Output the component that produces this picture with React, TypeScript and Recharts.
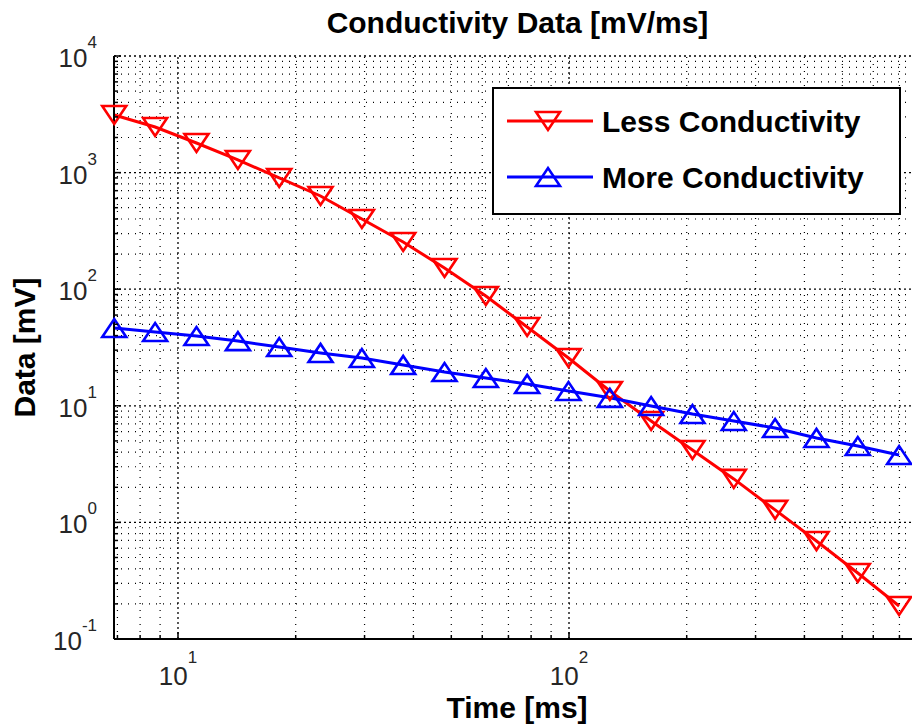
import React from 'react';
import { LineChart, Line, XAxis, YAxis, ReferenceLine, Legend } from 'recharts';

const timeMs = [6.87, 8.74, 11.15, 14.23, 18.15, 23.15, 29.53, 37.66, 48.04, 61.28, 78.16, 99.7, 127.2, 162.2, 206.9, 263.9, 336.6, 429.4, 547.7, 698.6];
const lessConductivity = [3119, 2461, 1795, 1284, 899, 630, 400, 254, 152, 87.5, 47.4, 25.7, 13.4, 7.41, 4.18, 2.36, 1.28, 0.692, 0.368, 0.192];
const moreConductivity = [46.5, 42.9, 39.7, 35.9, 31.9, 28.4, 25.7, 22.4, 19.5, 17.3, 15.4, 13.4, 11.7, 9.96, 8.51, 7.41, 6.45, 5.3, 4.52, 3.78];

const xMajorTicks = [10, 100];
const xMinorTicks = [7, 8, 9, 20, 30, 40, 50, 60, 70, 80, 90, 200, 300, 400, 500, 600, 700, 800];
const yMajorTicks = [0.1, 1, 10, 100, 1000, 10000];
const yMinorTicks = [
  0.2, 0.3, 0.4, 0.5, 0.6, 0.7, 0.8, 0.9,
  2, 3, 4, 5, 6, 7, 8, 9,
  20, 30, 40, 50, 60, 70, 80, 90,
  200, 300, 400, 500, 600, 700, 800, 900,
  2000, 3000, 4000, 5000, 6000, 7000, 8000, 9000,
];

const seriesNames = { less: 'Less Conductivity', more: 'More Conductivity' };
const titleText = 'Conductivity Data [mV/ms]';
const xLabelText = 'Time [ms]';
const yLabelText = 'Data [mV]';

const data = timeMs.map((t, i) => ({ t, less: lessConductivity[i], more: moreConductivity[i] }));
const xTicks = [...xMinorTicks, ...xMajorTicks].sort((a, b) => a - b);
const yTicks = [...yMinorTicks, ...yMajorTicks].sort((a, b) => a - b);

const FONT = '"Liberation Sans", Arial, Helvetica, sans-serif';
const RED = '#ff0000';
const BLUE = '#0000ff';

const isMajor = (v: number) => {
  const l = Math.log10(v);
  return Math.abs(l - Math.round(l)) < 1e-6;
};

const downTri = (cx: number, cy: number) => `M${cx - 12},${cy - 9} L${cx + 12},${cy - 9} L${cx},${cy + 9} Z`;
const upTri = (cx: number, cy: number) => `M${cx - 12},${cy + 9} L${cx + 12},${cy + 9} L${cx},${cy - 9} Z`;

const renderDown = (p: any) => (
  <path key={`d${p.index}`} d={downTri(p.cx, p.cy)} fill="none" stroke={RED} strokeWidth={2.6} strokeLinejoin="miter" />
);
const renderUp = (p: any) => (
  <path key={`u${p.index}`} d={upTri(p.cx, p.cy)} fill="none" stroke={BLUE} strokeWidth={2.6} strokeLinejoin="miter" />
);

const YTick = (props: any) => {
  const { x, y, payload } = props;
  const v = payload.value;
  const major = isMajor(v);
  const e = Math.round(Math.log10(v));
  return (
    <g>
      <line x1={x} x2={x + (major ? 7 : 4)} y1={y} y2={y} stroke="#000" strokeWidth={1.5} />
      {major && (
        <text x={x - 17} y={y + 11} textAnchor="end" fill="#262626" fontFamily={FONT}>
          <tspan fontSize={26}>10</tspan>
          <tspan fontSize={17} dy={-19}>{e}</tspan>
        </text>
      )}
    </g>
  );
};

const XTickBottom = (props: any) => {
  const { x, y, payload } = props;
  const v = payload.value;
  const major = isMajor(v);
  const e = Math.round(Math.log10(v));
  return (
    <g>
      <line x1={x} x2={x} y1={y} y2={y - (major ? 7 : 4)} stroke="#000" strokeWidth={1.5} />
      {major && (
        <text x={x} y={y + 46} textAnchor="middle" fill="#262626" fontFamily={FONT}>
          <tspan fontSize={26}>10</tspan>
          <tspan fontSize={17} dy={-22}>{e}</tspan>
        </text>
      )}
    </g>
  );
};

const XTickTop = (props: any) => {
  const { x, y, payload } = props;
  const major = isMajor(payload.value);
  return <line x1={x} x2={x} y1={y} y2={y + (major ? 7 : 4)} stroke="#000" strokeWidth={1.5} />;
};

const XLabel = (props: any) => {
  const vb = props.viewBox || { x: 114, y: 639, width: 816, height: 89 };
  return (
    <text x={517} y={vb.y + 79} textAnchor="middle" fontFamily={FONT} fontWeight="bold" fontSize={30} fill="#000">
      {xLabelText}
    </text>
  );
};

const YLabel = (props: any) => {
  const vb = props.viewBox || { x: 0, y: 56, width: 114, height: 583 };
  const cx = vb.x + 35;
  const cy = vb.y + vb.height / 2;
  return (
    <text x={cx} y={cy} transform={`rotate(-90 ${cx} ${cy})`} textAnchor="middle" fontFamily={FONT} fontWeight="bold" fontSize={30} fill="#000">
      {yLabelText}
    </text>
  );
};

const LegendBox = (props: any) => {
  const payload = props.payload || [];
  return (
    <svg width={409} height={128} style={{ display: 'block' }}>
      <rect x={1} y={1} width={407} height={126} fill="#fff" stroke="#000" strokeWidth={2} />
      {payload.map((p: any, i: number) => {
        const cy = 34 + i * 56;
        const down = p.dataKey === 'less';
        return (
          <g key={String(p.value)}>
            <line x1={15} x2={101} y1={cy} y2={cy} stroke={p.color} strokeWidth={3} />
            <path d={down ? downTri(56, cy) : upTri(56, cy)} fill="none" stroke={p.color} strokeWidth={2.6} />
            <text x={110} y={cy + 11} fontFamily={FONT} fontWeight="bold" fontSize={30} fill="#000">
              {p.value}
            </text>
          </g>
        );
      })}
    </svg>
  );
};

export default function App() {
  return (
    <div style={{ position: 'absolute', left: 0, top: 0, width: 912, height: 728, overflow: 'hidden', background: '#fff' }}>
      <div
        style={{
          position: 'absolute',
          left: 0,
          top: 8,
          width: 1035,
          textAlign: 'center',
          fontFamily: FONT,
          fontWeight: 'bold',
          fontSize: 30,
          lineHeight: '30px',
          color: '#000',
          zIndex: 2,
        }}
      >
        {titleText}
      </div>
      <LineChart width={930} height={728} data={data} margin={{ top: 56, right: 0, bottom: 0, left: 0 }}>
        <XAxis
          xAxisId="b"
          dataKey="t"
          type="number"
          scale="log"
          domain={[6.86, 838]}
          ticks={xTicks}
          interval={0}
          height={89}
          tickSize={0}
          tickMargin={0}
          tickLine={false}
          tick={(p: any) => <XTickBottom {...p} />}
          axisLine={{ stroke: '#000', strokeWidth: 2 }}
          label={<XLabel />}
        />
        <XAxis
          xAxisId="t"
          orientation="top"
          dataKey="t"
          type="number"
          scale="log"
          domain={[6.86, 838]}
          ticks={xTicks}
          interval={0}
          height={0}
          tickSize={0}
          tickMargin={0}
          tickLine={false}
          tick={(p: any) => <XTickTop {...p} />}
          axisLine={{ stroke: '#000', strokeWidth: 2 }}
        />
        <YAxis
          type="number"
          scale="log"
          domain={[0.1, 10000]}
          ticks={yTicks}
          interval={0}
          width={114}
          tickSize={0}
          tickMargin={0}
          tickLine={false}
          tick={(p: any) => <YTick {...p} />}
          axisLine={{ stroke: '#000', strokeWidth: 2 }}
          label={<YLabel />}
        />
        {yMinorTicks.map((v) => (
          <ReferenceLine key={`ym${v}`} xAxisId="b" y={v} stroke="#000" strokeWidth={1.2} strokeDasharray="1 6" />
        ))}
        {yMajorTicks.map((v) => (
          <ReferenceLine key={`yM${v}`} xAxisId="b" y={v} stroke="#000" strokeWidth={1.3} strokeDasharray="2 3" />
        ))}
        {xMinorTicks.map((v) => (
          <ReferenceLine key={`xm${v}`} xAxisId="b" x={v} stroke="#000" strokeWidth={1.2} strokeDasharray="1 6" />
        ))}
        {xMajorTicks.map((v) => (
          <ReferenceLine key={`xM${v}`} xAxisId="b" x={v} stroke="#000" strokeWidth={1.3} strokeDasharray="2 3" />
        ))}
        <Line
          xAxisId="b"
          dataKey="less"
          name={seriesNames.less}
          stroke={RED}
          strokeWidth={3}
          dot={renderDown}
          activeDot={false}
          isAnimationActive={false}
        />
        <Line
          xAxisId="b"
          dataKey="more"
          name={seriesNames.more}
          stroke={BLUE}
          strokeWidth={3}
          dot={renderUp}
          activeDot={false}
          isAnimationActive={false}
        />
        <Legend
          layout="horizontal"
          verticalAlign="middle"
          align="center"
          wrapperStyle={{ position: 'absolute', left: 492, top: 87, width: 409, height: 128 }}
          content={(p: any) => <LegendBox {...p} />}
        />
      </LineChart>
    </div>
  );
}
